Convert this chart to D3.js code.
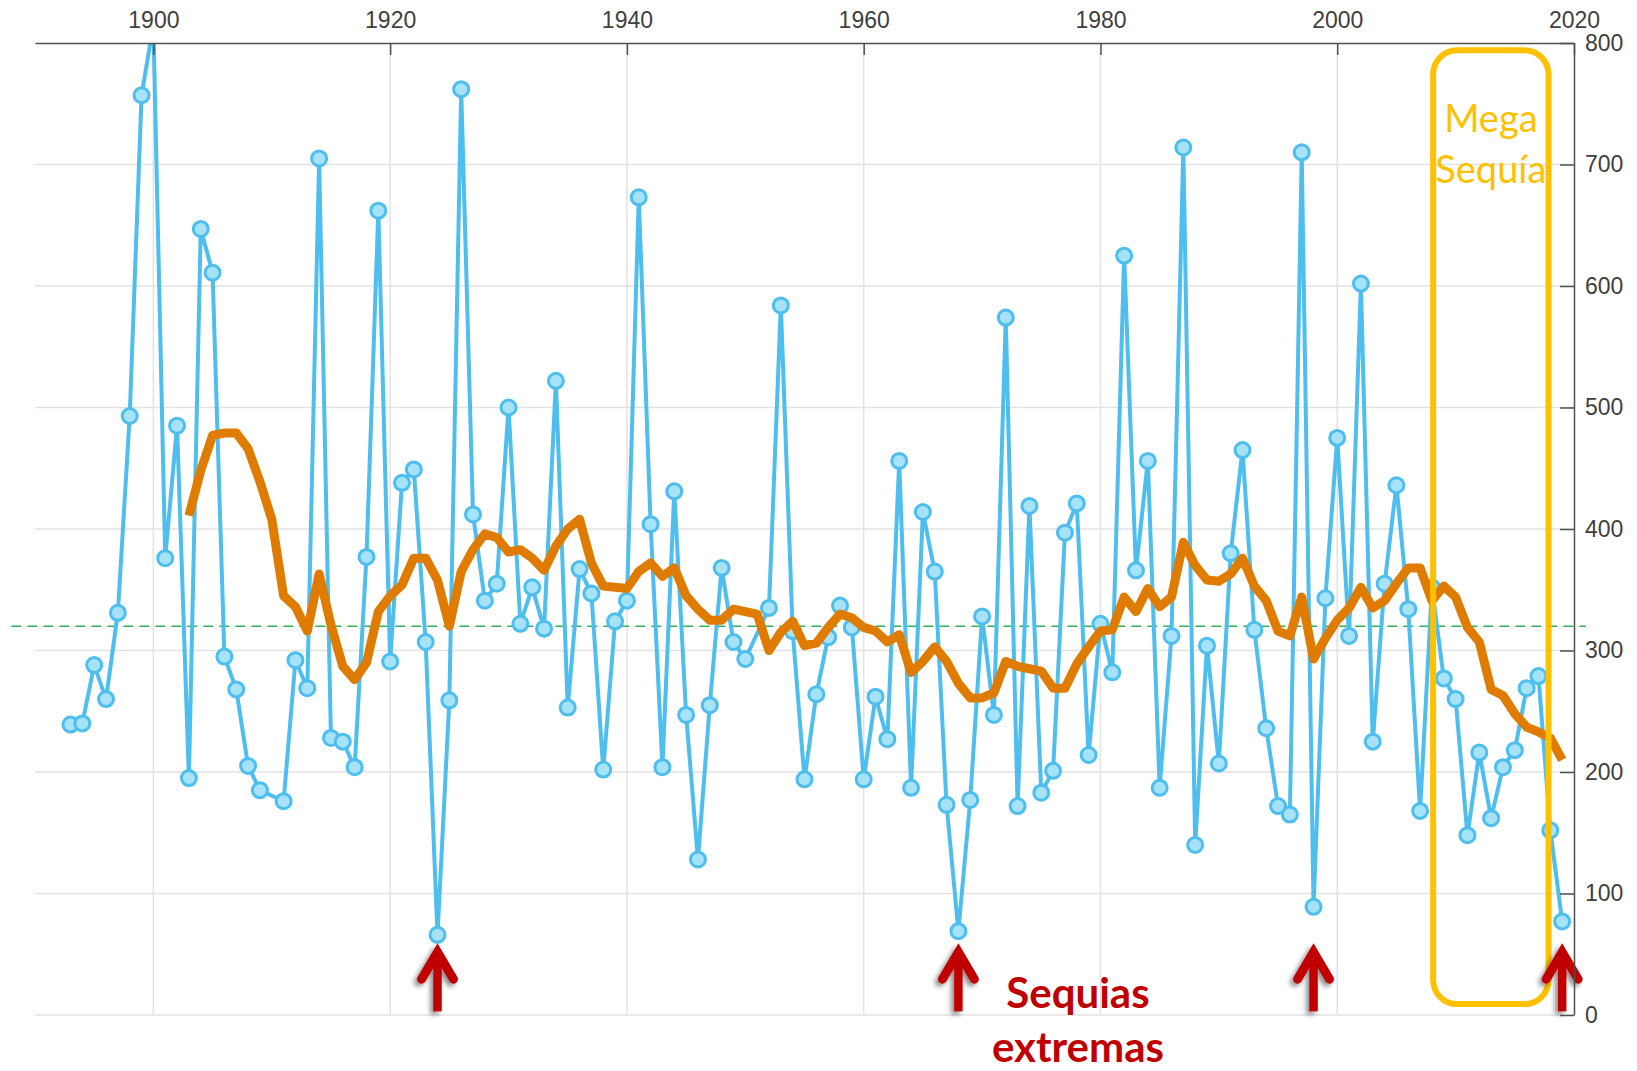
<!DOCTYPE html>
<html>
<head>
<meta charset="utf-8">
<script src="https://cdn.jsdelivr.net/npm/d3@7"></script>
<style>
  body { margin: 0; background: #fff; }
  svg { display: block; }
  .axis text { font-family: 'Liberation Sans', Arial, sans-serif; font-size: 23px; fill: #404040; }
  .axis path, .axis line { stroke: #505050; stroke-width: 1.5px; }
</style>
</head>
<body>
<svg id="chart" width="1637" height="1071"></svg>
<script>
'use strict';

// annual values (1910 and 1951 are missing in the record)
var years = [
  1893, 1894, 1895, 1896, 1897, 1898, 1899,
  1900, 1901, 1902, 1903, 1904, 1905, 1906, 1907, 1908, 1909,
  1911, 1912, 1913, 1914, 1915, 1916, 1917, 1918, 1919,
  1920, 1921, 1922, 1923, 1924, 1925, 1926, 1927, 1928, 1929,
  1930, 1931, 1932, 1933, 1934, 1935, 1936, 1937, 1938, 1939,
  1940, 1941, 1942, 1943, 1944, 1945, 1946, 1947, 1948, 1949,
  1950, 1952, 1953, 1954, 1955, 1956, 1957, 1958, 1959,
  1960, 1961, 1962, 1963, 1964, 1965, 1966, 1967, 1968, 1969,
  1970, 1971, 1972, 1973, 1974, 1975, 1976, 1977, 1978, 1979,
  1980, 1981, 1982, 1983, 1984, 1985, 1986, 1987, 1988, 1989,
  1990, 1991, 1992, 1993, 1994, 1995, 1996, 1997, 1998, 1999,
  2000, 2001, 2002, 2003, 2004, 2005, 2006, 2007, 2008, 2009,
  2010, 2011, 2012, 2013, 2014, 2015, 2016, 2017, 2018, 2019
];
var rainfall = [
  239, 240, 288, 260, 331, 493, 757,
  815, 376, 485, 195, 647, 611, 295, 268, 205, 185,
  176, 292, 269, 705, 228, 225, 204, 377, 662,
  291, 438, 449, 307, 66, 259, 762, 412, 341, 355,
  500, 322, 352, 318, 522, 253, 367, 347, 202, 324,
  341, 673, 404, 204, 431, 247, 128, 255, 368, 307,
  293, 335, 584, 316, 194, 264, 311, 337, 319,
  194, 262, 227, 456, 187, 414, 365, 173, 69, 177,
  328, 247, 574, 172, 419, 183, 201, 397, 421, 214,
  322, 282, 625, 366, 456, 187, 312, 714, 140, 304,
  207, 380, 465, 317, 236, 172, 165, 710, 89, 343,
  475, 312, 602, 225, 355, 436, 334, 168, 352, 277,
  260, 148, 216, 162, 204, 218, 269, 279, 152, 77
];

// smoothed curve
var avgYears = [
  1903, 1904, 1905, 1906, 1907, 1908, 1909,
  1910, 1911, 1912, 1913, 1914, 1915, 1916, 1917, 1918, 1919,
  1920, 1921, 1922, 1923, 1924, 1925, 1926, 1927, 1928, 1929,
  1930, 1931, 1932, 1933, 1934, 1935, 1936, 1937, 1938, 1939,
  1940, 1941, 1942, 1943, 1944, 1945, 1946, 1947, 1948, 1949,
  1950, 1951, 1952, 1953, 1954, 1955, 1956, 1957, 1958, 1959,
  1960, 1961, 1962, 1963, 1964, 1965, 1966, 1967, 1968, 1969,
  1970, 1971, 1972, 1973, 1974, 1975, 1976, 1977, 1978, 1979,
  1980, 1981, 1982, 1983, 1984, 1985, 1986, 1987, 1988, 1989,
  1990, 1991, 1992, 1993, 1994, 1995, 1996, 1997, 1998, 1999,
  2000, 2001, 2002, 2003, 2004, 2005, 2006, 2007, 2008, 2009,
  2010, 2011, 2012, 2013, 2014, 2015, 2016, 2017, 2018, 2019
];
var avgValues = [
  411, 448, 477, 479, 479, 466, 439,
  408, 345, 336, 316, 363, 321, 287, 276, 290, 332,
  345, 354, 376, 376, 358, 320, 365, 383, 396, 393,
  381, 383, 376, 366, 386, 400, 408, 372, 353, 352,
  351, 365, 372, 361, 368, 345, 334, 325, 325, 334,
  332, 330, 300, 315, 324, 304, 306, 319, 330, 327,
  319, 316, 307, 313, 282, 291, 303, 291, 273, 261,
  261, 265, 291, 287, 285, 283, 269, 269, 289, 303,
  316, 317, 344, 332, 351, 336, 344, 389, 370, 358,
  357, 363, 376, 353, 341, 316, 312, 344, 293, 310,
  325, 335, 352, 335, 341, 355, 368, 368, 341, 353,
  344, 319, 307, 268, 263, 248, 237, 233, 228, 210
];

var yearTicks = [1900, 1920, 1940, 1960, 1980, 2000, 2020];
var valueTicks = [0, 100, 200, 300, 400, 500, 600, 700, 800];
var meanLevel = 320;
var droughtYears = [1924, 1968, 1998, 2019];
var megaDrought = [2008.1, 2017.85];

var svg = d3.select('#chart');
var plotLeft = 35, plotRight = 1574, plotTop = 43, plotBottom = 1015;

var x = d3.scaleLinear().domain([1890, 2020]).range([plotLeft, plotRight]);
var y = d3.scaleLinear().domain([0, 800]).range([plotBottom, plotTop]);

var defs = svg.append('defs');

defs.append('clipPath')
  .attr('id', 'plotClip')
  .append('rect')
  .attr('x', plotLeft)
  .attr('y', plotTop)
  .attr('width', plotRight - plotLeft)
  .attr('height', plotBottom - plotTop);

defs.append('filter')
  .attr('id', 'arrowShadow')
  .attr('x', '-50%').attr('y', '-20%')
  .attr('width', '200%').attr('height', '150%')
  .append('feDropShadow')
  .attr('dx', -3)
  .attr('dy', 3)
  .attr('stdDeviation', 2.5)
  .attr('flood-color', '#000')
  .attr('flood-opacity', 0.45);

// grid
var grid = svg.append('g').attr('class', 'grid');

grid.selectAll('line.v')
  .data(yearTicks.slice(0, -1))
  .enter().append('line')
  .attr('class', 'v')
  .attr('x1', function(d) { return x(d); })
  .attr('x2', function(d) { return x(d); })
  .attr('y1', plotTop)
  .attr('y2', plotBottom)
  .style('stroke', '#e2e2e2')
  .style('stroke-width', 1.5);

grid.selectAll('line.h')
  .data(valueTicks.slice(0, -1))
  .enter().append('line')
  .attr('class', 'h')
  .attr('x1', plotLeft)
  .attr('x2', plotRight)
  .attr('y1', function(d) { return y(d); })
  .attr('y2', function(d) { return y(d); })
  .style('stroke', '#e2e2e2')
  .style('stroke-width', 1.5);

// mean level
svg.append('line')
  .attr('x1', x(1888))
  .attr('x2', x(2021))
  .attr('y1', y(meanLevel))
  .attr('y2', y(meanLevel))
  .style('stroke', '#2fb05a')
  .style('stroke-width', 1.5)
  .style('stroke-dasharray', '10,6');

var plot = svg.append('g').attr('clip-path', 'url(#plotClip)');

var series = years.map(function(yr, i) { return {year: yr, value: rainfall[i]}; });
var smooth = avgYears.map(function(yr, i) { return {year: yr, value: avgValues[i]}; });

var line = d3.line()
  .x(function(d) { return x(d.year); })
  .y(function(d) { return y(d.value); });

plot.append('path')
  .datum(series)
  .attr('d', line)
  .style('fill', 'none')
  .style('stroke', '#4dbeee')
  .style('stroke-width', 4)
  .style('stroke-linejoin', 'round');

plot.selectAll('circle')
  .data(series)
  .enter().append('circle')
  .attr('cx', function(d) { return x(d.year); })
  .attr('cy', function(d) { return y(d.value); })
  .attr('r', 7.5)
  .style('fill', '#a6e3f9')
  .style('stroke', '#4dbeee')
  .style('stroke-width', 3);

plot.append('path')
  .datum(smooth)
  .attr('d', line)
  .style('fill', 'none')
  .style('stroke', '#df7c00')
  .style('stroke-width', 9)
  .style('stroke-linejoin', 'round')
  .style('stroke-linecap', 'butt');

// mega drought box
svg.append('rect')
  .attr('x', x(megaDrought[0]))
  .attr('y', y(794))
  .attr('width', x(megaDrought[1]) - x(megaDrought[0]))
  .attr('height', y(9) - y(794))
  .attr('rx', 24)
  .attr('ry', 24)
  .style('fill', 'none')
  .style('stroke', '#ffc000')
  .style('stroke-width', 6);

var boxMid = x((megaDrought[0] + megaDrought[1]) / 2);

svg.append('text')
  .attr('x', boxMid)
  .attr('y', 132)
  .attr('text-anchor', 'middle')
  .style('font-family', 'Lato, "Open Sans", sans-serif')
  .style('font-size', '38px')
  .style('fill', '#ffc000')
  .text('Mega');

svg.append('text')
  .attr('x', boxMid)
  .attr('y', 183)
  .attr('text-anchor', 'middle')
  .style('font-family', 'Lato, "Open Sans", sans-serif')
  .style('font-size', '38px')
  .style('fill', '#ffc000')
  .text('Sequía');

// drought arrows
var tipY = y(55), baseY = y(3);

var arrows = svg.selectAll('g.arrow')
  .data(droughtYears)
  .enter().append('g')
  .attr('class', 'arrow')
  .attr('transform', function(d) { return 'translate(' + x(d) + ',0)'; })
  .attr('filter', 'url(#arrowShadow)');

arrows.append('path')
  .attr('d', 'M0,' + (tipY + 6) + 'V' + baseY)
  .style('stroke', '#c00000')
  .style('stroke-width', 8.5)
  .style('fill', 'none');

arrows.append('path')
  .attr('d', 'M-16,' + (tipY + 31) + 'L0,' + (tipY + 4) + 'L16,' + (tipY + 31))
  .style('stroke', '#c00000')
  .style('stroke-width', 9)
  .style('stroke-linecap', 'round')
  .style('stroke-linejoin', 'miter')
  .style('fill', 'none');

var noteX = x(1978.1);

svg.append('text')
  .attr('x', noteX)
  .attr('y', 1008)
  .attr('text-anchor', 'middle')
  .style('font-family', 'Lato, "Open Sans", sans-serif')
  .style('font-weight', 'bold')
  .style('font-size', '42px')
  .style('fill', '#c00000')
  .text('Sequias');

svg.append('text')
  .attr('x', noteX)
  .attr('y', 1062)
  .attr('text-anchor', 'middle')
  .style('font-family', 'Lato, "Open Sans", sans-serif')
  .style('font-weight', 'bold')
  .style('font-size', '42px')
  .style('fill', '#c00000')
  .text('extremas');

// axes
svg.append('g')
  .attr('class', 'axis')
  .attr('transform', 'translate(0,' + plotTop + ')')
  .call(d3.axisTop(x).tickValues(yearTicks).tickFormat(d3.format('d')).tickSizeInner(-12).tickSizeOuter(0).tickPadding(15));

svg.append('g')
  .attr('class', 'axis')
  .attr('transform', 'translate(' + plotRight + ',0)')
  .call(d3.axisRight(y).tickValues(valueTicks).tickSizeInner(-14).tickSizeOuter(0).tickPadding(11));
</script>
</body>
</html>
